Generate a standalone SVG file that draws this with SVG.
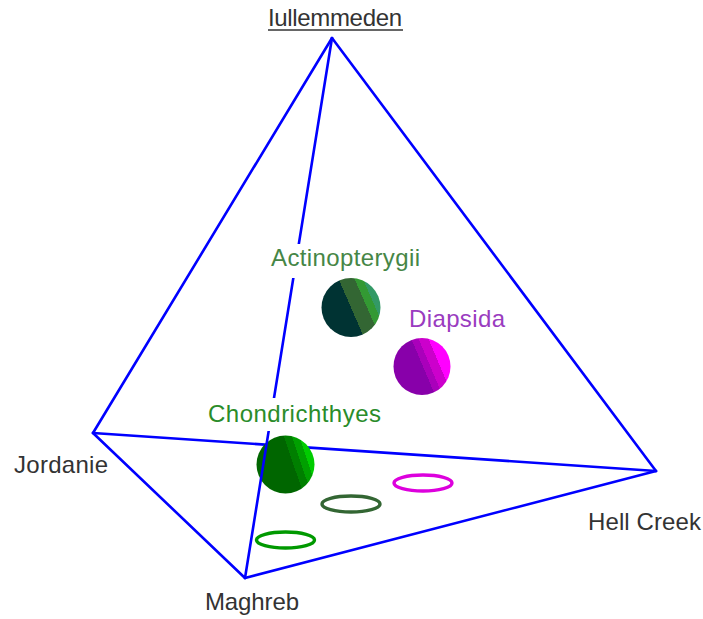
<svg xmlns="http://www.w3.org/2000/svg" width="703" height="619" viewBox="0 0 703 619">
<style>
.edge{stroke:#0000ff;stroke-width:2.6;fill:none;stroke-linejoin:round;stroke-linecap:round}
.lbl{font-family:"Liberation Sans",Arial,sans-serif;font-size:24px;fill:#333333}
.ring{fill:none;stroke-width:3.4}
.mask{fill:#ffffff}
</style>
<defs>
<linearGradient id="gActi" gradientUnits="userSpaceOnUse" x1="324" y1="319.3" x2="378" y2="295.7">
<stop offset="0" stop-color="#003333"/><stop offset="0.5" stop-color="#003333"/>
<stop offset="0.5" stop-color="#336633"/><stop offset="0.75" stop-color="#336633"/>
<stop offset="0.75" stop-color="#339933"/><stop offset="0.88" stop-color="#339933"/>
<stop offset="0.88" stop-color="#339966"/><stop offset="1" stop-color="#339966"/>
</linearGradient>
<linearGradient id="gDiap" gradientUnits="userSpaceOnUse" x1="396" y1="378" x2="448" y2="356">
<stop offset="0" stop-color="#8800aa"/><stop offset="0.52" stop-color="#8800aa"/>
<stop offset="0.52" stop-color="#aa00bb"/><stop offset="0.64" stop-color="#aa00bb"/>
<stop offset="0.64" stop-color="#cc00cc"/><stop offset="0.8" stop-color="#cc00cc"/>
<stop offset="0.8" stop-color="#ff00ff"/><stop offset="1" stop-color="#ff00ff"/>
</linearGradient>
<linearGradient id="gChon" gradientUnits="userSpaceOnUse" x1="258" y1="473.8" x2="313" y2="455.2">
<stop offset="0" stop-color="#006600"/><stop offset="0.63" stop-color="#006600"/>
<stop offset="0.63" stop-color="#007f00"/><stop offset="0.76" stop-color="#007f00"/>
<stop offset="0.76" stop-color="#00a000"/><stop offset="0.88" stop-color="#00a000"/>
<stop offset="0.88" stop-color="#00cc00"/><stop offset="1" stop-color="#00cc00"/>
</linearGradient>
</defs>
<rect width="703" height="619" fill="#ffffff"/>

<g id="connectors">
<line class="edge" x1="332" y1="38" x2="93" y2="433"/>
<line class="edge" x1="332" y1="38" x2="656" y2="471"/>
<line class="edge" x1="93" y1="433" x2="656" y2="471"/>
<line class="edge" x1="93" y1="433" x2="245" y2="578"/>
<line class="edge" x1="245" y1="578" x2="656" y2="471"/>
</g>

<g id="rings">
<ellipse class="ring" cx="423" cy="483" rx="29" ry="8" stroke="#dd00dd"/>
<ellipse class="ring" cx="351" cy="504" rx="29" ry="8" stroke="#336633"/>
<ellipse class="ring" cx="285.5" cy="540" rx="29" ry="8" stroke="#009900"/>
</g>

<g id="chondrichthyes">
<circle cx="285.5" cy="464.5" r="29" fill="url(#gChon)"/>
</g>

<g id="connector-apex-maghreb">
<line class="edge" x1="332" y1="38" x2="245" y2="578"/>
</g>

<g id="label-masks">
<rect class="mask" x="268" y="244" width="156" height="34"/>
<rect class="mask" x="206" y="398" width="178" height="33"/>
</g>

<g id="actinopterygii">
<circle cx="351" cy="307.5" r="29.5" fill="url(#gActi)"/>
<text class="lbl" x="271" y="266" textLength="149" style="fill:#468646">Actinopterygii</text>
</g>

<g id="diapsida">
<circle cx="422" cy="366.5" r="28.5" fill="url(#gDiap)"/>
<text class="lbl" x="409" y="327" textLength="96" style="fill:#9a3cc0">Diapsida</text>
</g>

<g id="chondrichthyes-label">
<text class="lbl" x="208" y="422" textLength="173" style="fill:#2a8c2a">Chondrichthyes</text>
</g>

<g id="iullemmeden">
<text class="lbl" x="268" y="26" textLength="134">Iullemmeden</text>
<line x1="268" y1="30" x2="403" y2="30" stroke="#333333" stroke-width="1.5"/>
</g>
<g id="jordanie"><text class="lbl" x="14" y="473" textLength="94">Jordanie</text></g>
<g id="hellcreek"><text class="lbl" x="588" y="530" textLength="113">Hell Creek</text></g>
<g id="maghreb"><text class="lbl" x="205" y="610" textLength="94">Maghreb</text></g>
</svg>
